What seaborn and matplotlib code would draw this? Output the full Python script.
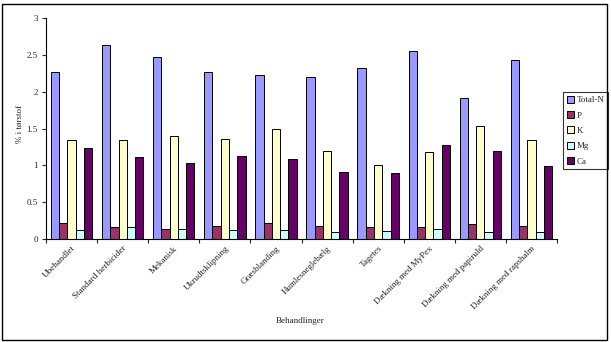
import matplotlib
matplotlib.use("Agg")
import matplotlib.pyplot as plt
import seaborn as sns
import pandas as pd
import numpy as np
from matplotlib.patches import Rectangle
from matplotlib.ticker import FixedLocator, FuncFormatter

categories = ["Ubehandlet", "Standard herbicider", "Mekanisk", "Ukrudtsklipning",
              "Græsblanding", "Humlesneglebælg", "Tagetes", "Dækning med MyPex",
              "Dækning med papiruld", "Dækning med rapshalm"]
series = ["Total-N", "P", "K", "Mg", "Ca"]
total_n = [2.27, 2.64, 2.47, 2.27, 2.22, 2.20, 2.32, 2.55, 1.91, 2.43]
p_vals = [0.22, 0.16, 0.14, 0.18, 0.22, 0.17, 0.16, 0.16, 0.20, 0.18]
k_vals = [1.34, 1.34, 1.40, 1.36, 1.49, 1.19, 1.01, 1.18, 1.53, 1.34]
mg_vals = [0.12, 0.16, 0.13, 0.12, 0.12, 0.10, 0.11, 0.14, 0.10, 0.10]
ca_vals = [1.24, 1.11, 1.03, 1.12, 1.08, 0.91, 0.89, 1.27, 1.19, 0.99]
colors = ["#9999FF", "#993366", "#FFFFCC", "#CCFFFF", "#660066"]

rows = []
for s, vals in zip(series, [total_n, p_vals, k_vals, mg_vals, ca_vals]):
    for c, v in zip(categories, vals):
        rows.append({"Behandling": c, "Serie": s, "Værdi": v})
df = pd.DataFrame(rows)

sns.set_style("white")
plt.rcParams['font.family'] = ['Liberation Serif', 'DejaVu Serif']

fig = plt.figure(figsize=(6.11, 3.42), dpi=100)
ax = fig.add_axes([46/611, 1-239/342, (557-46)/611, (239-18)/342])

sns.barplot(data=df, x="Behandling", y="Værdi", hue="Serie", order=categories,
            hue_order=series, palette=colors, width=0.81, gap=0,
            edgecolor="black", linewidth=0.7, saturation=1, ax=ax, legend=True)

ax.set_ylim(0, 3)
ax.set_xlim(-0.5, len(categories) - 0.5)
ax.set_yticks([0, 0.5, 1, 1.5, 2, 2.5, 3])
ax.yaxis.set_major_formatter(FuncFormatter(lambda v, p: f"{v:g}"))
ax.tick_params(axis="y", labelsize=6.5, length=3, width=0.8, direction="out", left=True, pad=3)
ax.set_xticks(range(len(categories)))
ax.set_xticklabels(categories, rotation=45, ha="right", rotation_mode="anchor", fontsize=6.5)
ax.tick_params(axis="x", which="major", length=0, pad=4)
ax.xaxis.set_minor_locator(FixedLocator(np.arange(-0.5, len(categories), 1.0)))
ax.tick_params(axis="x", which="minor", length=3, width=0.8, direction="out", bottom=True)
for side in ["top", "right"]:
    ax.spines[side].set_visible(False)
for side in ["left", "bottom"]:
    ax.spines[side].set_color("black")
    ax.spines[side].set_linewidth(0.8)

ax.set_ylabel("")
ax.set_xlabel("")
fig.text(20/611, 1-124/342, "% i tørstof", ha="center", va="center", rotation=90, fontsize=6.5)
fig.text(300/611, 1-321/342, "Behandlinger", ha="center", va="center", fontsize=6.5)

leg = ax.legend(loc="upper left", bbox_to_anchor=(563/611, 1-92/342),
                bbox_transform=fig.transFigure, fontsize=6.5, frameon=True,
                fancybox=False, edgecolor="black", handlelength=0.8, handleheight=0.8,
                handletextpad=0.3, borderpad=0.4, labelspacing=0.75, borderaxespad=0)
leg.get_frame().set_linewidth(0.8)

fig.patches.append(Rectangle((2/611, 2/342), 605/611, 336/342, transform=fig.transFigure,
                             fill=False, edgecolor="black", linewidth=1))

fig.savefig("out.png", dpi=100)
